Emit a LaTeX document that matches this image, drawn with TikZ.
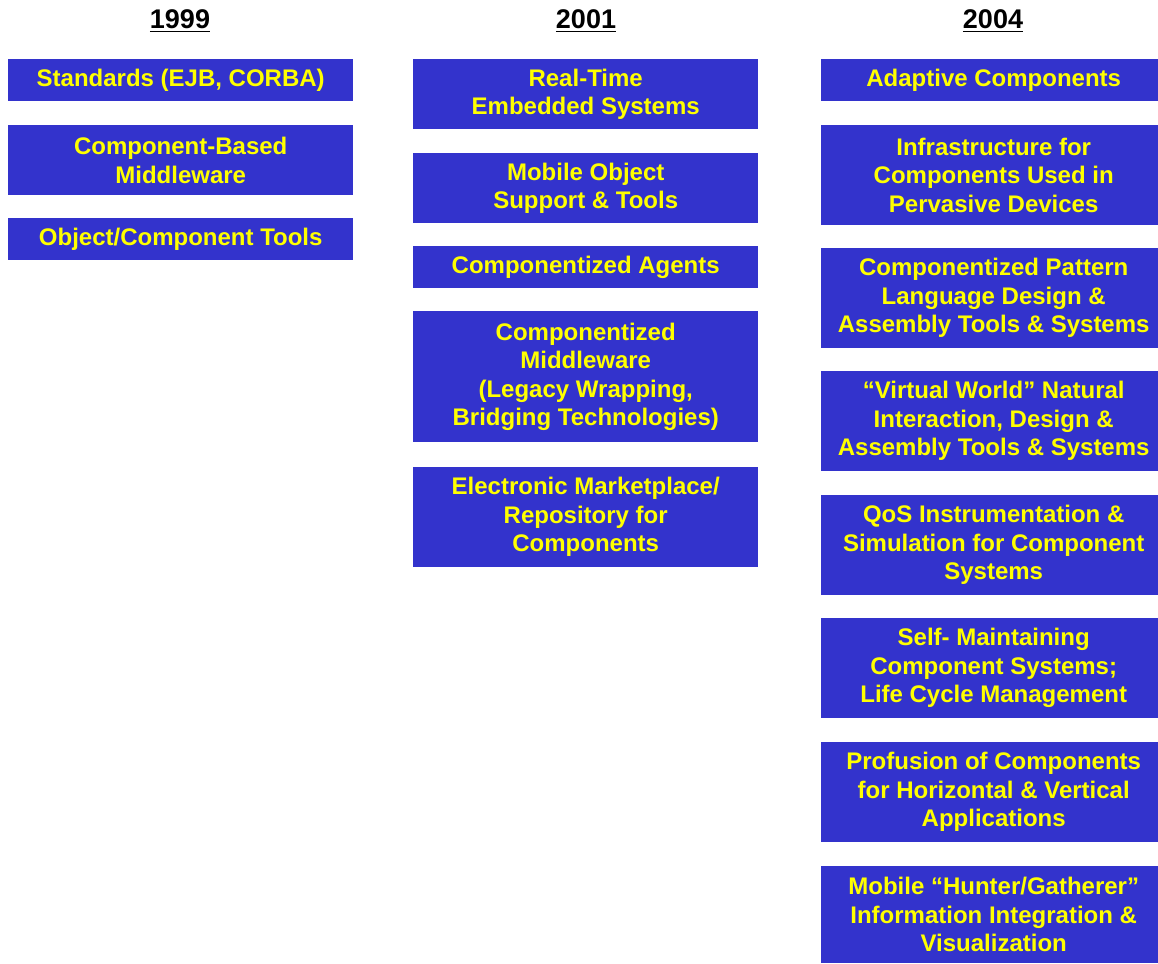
\documentclass[tikz,border=0pt]{standalone}
\usepackage{fontspec}
\setmainfont{Liberation Sans}
\definecolor{boxblue}{HTML}{3333CC}
\definecolor{boxtext}{HTML}{FFFF00}
\begin{document}
\begin{tikzpicture}[x=1pt,y=1pt,
  item/.style={fill=boxblue, draw=none, inner sep=0pt, anchor=north west,
    minimum width=345, text=boxtext, align=center,
    font=\bfseries\fontsize{24}{28.5}\selectfont},
  year/.style={inner sep=0pt, anchor=base, font=\bfseries\fontsize{27}{30}\selectfont},
  yearline/.style={line width=1.5pt}]
\useasboundingbox (0,0) rectangle (1158,-963);

% column headings
\node[year] (y1) at (180,-28.3) {1999};
\node[year] (y2) at (586,-28.3) {2001};
\node[year] (y3) at (993,-28.3) {2004};
\foreach \y in {y1,y2,y3}
  \draw[yearline] ([yshift=-3.4pt]\y.base west) -- ([yshift=-3.4pt]\y.base east);

% 1999
\node[item, minimum height=42] (a1) at (8,-59) {Standards (EJB, CORBA)};
\node[item, minimum height=70] (a2) at (8,-125) {Component-Based\\Middleware};
\node[item, minimum height=42] (a3) at (8,-218) {Object/Component Tools};

% 2001
\node[item, minimum height=70] (b1) at (413,-59) {Real-Time\\Embedded Systems};
\node[item, minimum height=70] (b2) at (413,-153) {Mobile Object\\Support \& Tools};
\node[item, minimum height=42] (b3) at (413,-246) {Componentized Agents};
\node[item, minimum height=131] (b4) at (413,-311) {Componentized\\Middleware\\(Legacy Wrapping,\\Bridging Technologies)};
\node[item, minimum height=100] (b5) at (413,-467) {Electronic Marketplace/\\Repository for\\Components};

% 2004 (boxes run past the right edge of the page)
\node[item, minimum height=42] (c1) at (821,-59) {Adaptive Components};
\node[item, minimum height=100] (c2) at (821,-125) {Infrastructure for\\Components Used in\\Pervasive Devices};
\node[item, minimum height=100] (c3) at (821,-248) {Componentized Pattern\\Language Design \&\\Assembly Tools \& Systems};
\node[item, minimum height=100] (c4) at (821,-371) {“Virtual World” Natural\\Interaction, Design \&\\Assembly Tools \& Systems};
\node[item, minimum height=100] (c5) at (821,-495) {QoS Instrumentation \&\\Simulation for Component\\Systems};
\node[item, minimum height=100] (c6) at (821,-618) {Self- Maintaining\\Component Systems;\\Life Cycle Management};
\node[item, minimum height=100] (c7) at (821,-742) {Profusion of Components\\for Horizontal \& Vertical\\Applications};
\node[item, minimum height=97] (c8) at (821,-866) {Mobile “Hunter/Gatherer”\\Information Integration \&\\Visualization};
\end{tikzpicture}
\end{document}
